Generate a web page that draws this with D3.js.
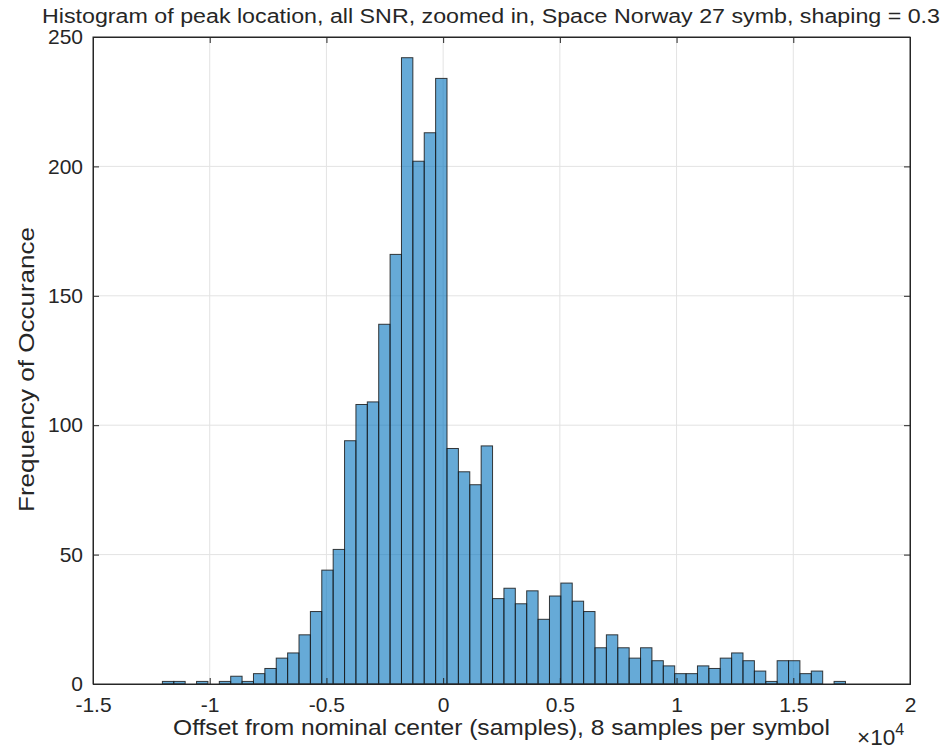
<!DOCTYPE html>
<html><head><meta charset="utf-8">
<script src="https://cdn.jsdelivr.net/npm/d3@7"></script>
<style>body{margin:0;background:#fff;} text{font-family:"Liberation Sans",Arial,Helvetica,sans-serif;fill:#262626;}</style>
</head><body>
<svg id="c" width="944" height="750"></svg>
<script>
// histogram data: bin counts, first bin edge and bin width (samples)
const counts = [1,1,0,1,0,1,3,1,4,6,10,12,19,28,44,52,94,108,109,139,166,242,202,213,234,91,82,77,92,33,37,31,36,25,34,39,32,28,14,19,14,10,14,9,7,4,4,7,6,10,12,9,5,1,9,9,4,5,0,1];
const firstEdge = -12027;
const binWidth = 487.7;
const xTicks = [-15000,-10000,-5000,0,5000,10000,15000,20000];
const xTickLabels = ["-1.5","-1","-0.5","0","0.5","1","1.5","2"];
const yTicks = [0,50,100,150,200,250];
const title = "Histogram of peak location, all SNR, zoomed in, Space Norway 27 symb, shaping = 0.3";
const xLabel = "Offset from nominal center (samples), 8 samples per symbol";
const yLabel = "Frequency of Occurance";

const bins = counts.map((c,i)=>({x0:firstEdge+i*binWidth, x1:firstEdge+(i+1)*binWidth, n:c}));

const L=93, R=910, T=37, B=684;
const svg=d3.select("#c");
const x=d3.scaleLinear().domain([-15000,20000]).range([L,R]);
const y=d3.scaleLinear().domain([0,250]).range([B,T]);

// grid
svg.append("g").selectAll("line").data(xTicks.slice(1,-1)).join("line")
  .attr("x1",d=>x(d)).attr("x2",d=>x(d)).attr("y1",T).attr("y2",B)
  .attr("stroke","#e3e3e3").attr("stroke-width",1);
svg.append("g").selectAll("line").data(yTicks.slice(1,-1)).join("line")
  .attr("y1",d=>y(d)).attr("y2",d=>y(d)).attr("x1",L).attr("x2",R)
  .attr("stroke","#e3e3e3").attr("stroke-width",1);

// bars
svg.append("g").selectAll("rect").data(bins.filter(b=>b.n>0)).join("rect")
  .attr("x",d=>x(d.x0)).attr("width",d=>x(d.x1)-x(d.x0))
  .attr("y",d=>y(d.n)).attr("height",d=>y(0)-y(d.n))
  .attr("fill","#0072BD").attr("fill-opacity",0.6)
  .attr("stroke","#1a1a1a").attr("stroke-opacity",0.85).attr("stroke-width",1);

// box
svg.append("rect").attr("x",L).attr("y",T).attr("width",R-L).attr("height",B-T)
  .attr("fill","none").attr("stroke","#262626").attr("stroke-width",1);

// axes with inward ticks
const xa=d3.axisBottom(x).tickValues(xTicks).tickFormat((d,i)=>xTickLabels[i]).tickSize(-6).tickPadding(13);
const gx=svg.append("g").attr("transform",`translate(0,${B})`).call(xa);
const xt=d3.axisTop(x).tickValues(xTicks).tickFormat("").tickSize(-6);
const gxt=svg.append("g").attr("transform",`translate(0,${T})`).call(xt);
const ya=d3.axisLeft(y).tickValues(yTicks).tickSize(-6).tickPadding(10);
const gy=svg.append("g").attr("transform",`translate(${L},0)`).call(ya);
const yr=d3.axisRight(y).tickValues(yTicks).tickFormat("").tickSize(-6);
const gyr=svg.append("g").attr("transform",`translate(${R},0)`).call(yr);
[gx,gxt,gy,gyr].forEach(g=>{
  g.select(".domain").attr("stroke","#262626");
  g.selectAll(".tick line").attr("stroke","#262626");
  g.selectAll("text").attr("font-size",21).attr("fill","#262626").attr("font-family",null);
});

svg.append("text").attr("x",491).attr("y",23).attr("text-anchor","middle")
  .attr("font-size",20).attr("textLength",898).attr("lengthAdjust","spacingAndGlyphs").text(title);
svg.append("text").attr("x",501.5).attr("y",735).attr("text-anchor","middle")
  .attr("font-size",21.5).attr("textLength",657).attr("lengthAdjust","spacingAndGlyphs").text(xLabel);
svg.append("text").attr("transform","translate(33.5,369.5) rotate(-90)").attr("text-anchor","middle")
  .attr("font-size",21.5).attr("textLength",285).attr("lengthAdjust","spacingAndGlyphs").text(yLabel);
const mult=svg.append("text").attr("x",857).attr("y",745).attr("font-size",22.5);
mult.append("tspan").text("\u00d710");
mult.append("tspan").attr("dy",-10).attr("font-size",16).text("4");
</script>
</body></html>
